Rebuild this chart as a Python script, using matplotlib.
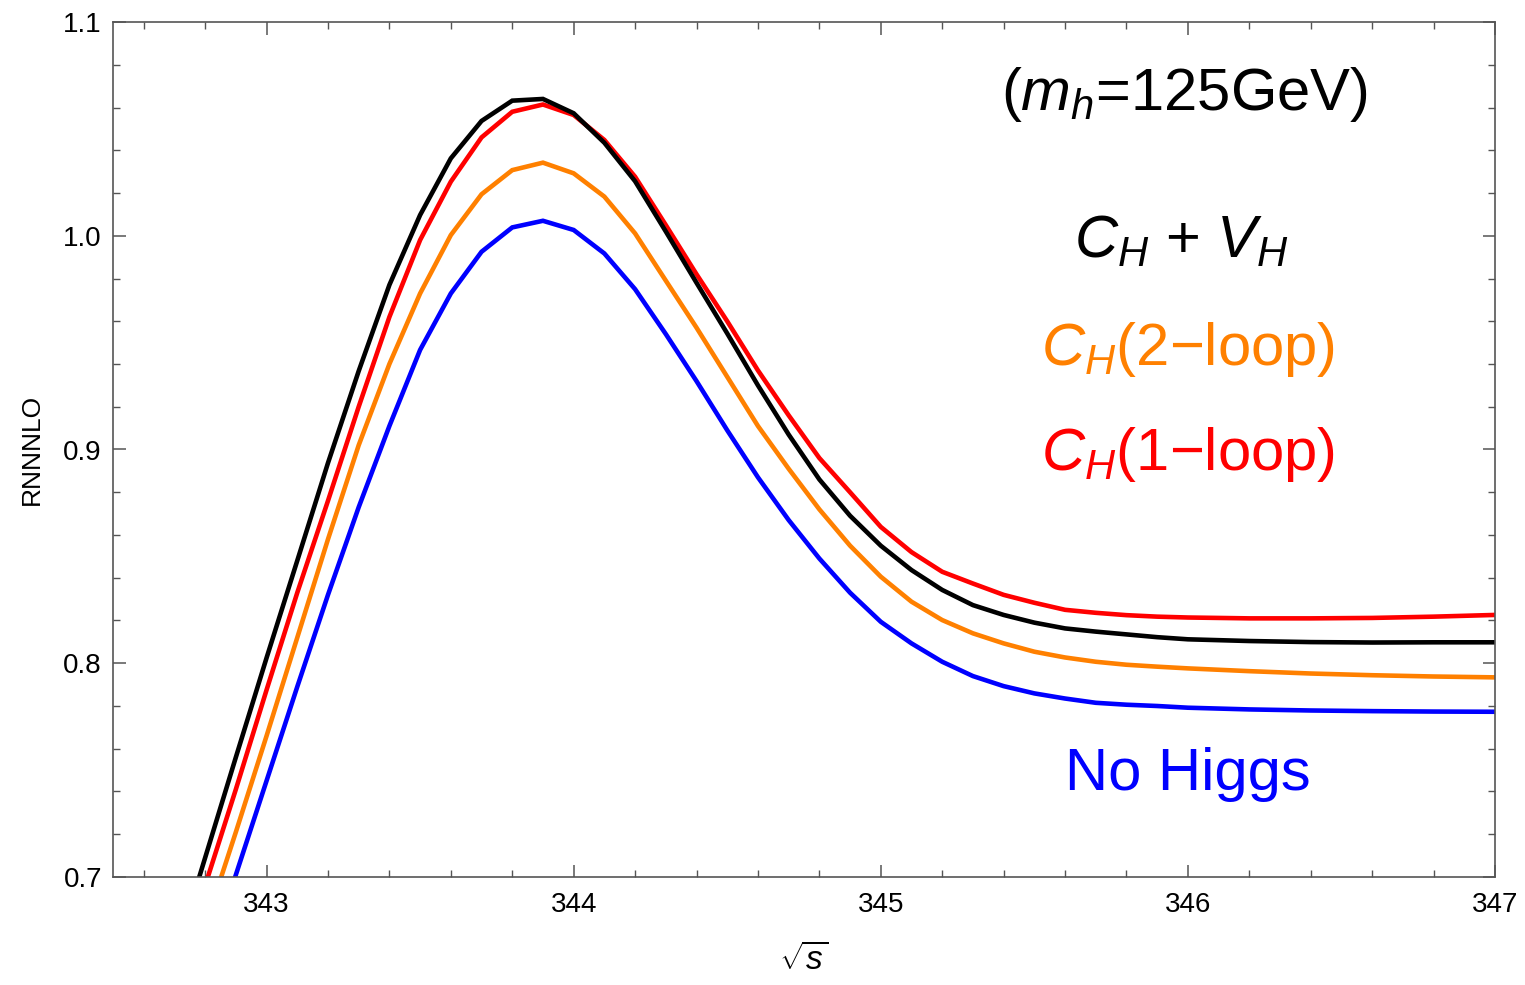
import matplotlib
matplotlib.use("Agg")
import matplotlib.pyplot as plt
from matplotlib.ticker import MultipleLocator

plt.rcParams['font.family'] = ['Liberation Sans', 'DejaVu Sans']
plt.rcParams['mathtext.fontset'] = 'custom'
plt.rcParams['mathtext.rm'] = 'Liberation Sans'
plt.rcParams['mathtext.it'] = 'Liberation Sans:italic'
plt.rcParams['mathtext.bf'] = 'Liberation Sans:bold'

# ---- data ----
sqrt_s = [342.7, 342.8, 342.9, 343.0, 343.1, 343.2, 343.3, 343.4, 343.5, 343.6,
          343.7, 343.8, 343.9, 344.0, 344.1, 344.2, 344.3, 344.4, 344.5, 344.6,
          344.7, 344.8, 344.9, 345.0, 345.1, 345.2, 345.3, 345.4, 345.5, 345.6,
          345.7, 345.8, 345.9, 346.0, 346.2, 346.4, 346.6, 346.8, 347.0]

ch_vh = [0.662, 0.709, 0.756, 0.8025, 0.848, 0.8937, 0.9367, 0.977, 1.0097, 1.0362,
         1.0537, 1.0632, 1.064, 1.0573, 1.0435, 1.0255, 1.002, 0.978, 0.9543, 0.930,
         0.907, 0.886, 0.869, 0.855, 0.8436, 0.8343, 0.8272, 0.8226, 0.819, 0.8163,
         0.8148, 0.8135, 0.8122, 0.8112, 0.8104, 0.8099, 0.8097, 0.8098, 0.8098]

ch_1loop = [0.650, 0.696, 0.741, 0.7875, 0.833, 0.876, 0.920, 0.962, 0.998, 1.0253,
            1.046, 1.058, 1.0614, 1.0565, 1.0448, 1.0276, 1.005, 0.982, 0.960, 0.937,
            0.916, 0.896, 0.880, 0.8638, 0.852, 0.8428, 0.8373, 0.832, 0.8283, 0.825,
            0.8236, 0.8225, 0.8218, 0.8214, 0.821, 0.821, 0.8212, 0.8218, 0.8226]

ch_2loop = [0.632, 0.677, 0.721, 0.766, 0.812, 0.858, 0.902, 0.940, 0.973, 1.0003,
            1.0194, 1.0307, 1.0342, 1.0292, 1.0183, 1.0011, 0.979, 0.957, 0.934, 0.911,
            0.891, 0.872, 0.855, 0.8405, 0.8288, 0.8202, 0.814, 0.8093, 0.8054, 0.8027,
            0.8007, 0.7993, 0.7984, 0.7976, 0.7963, 0.7952, 0.7944, 0.7938, 0.7934]

no_higgs = [0.613, 0.657, 0.701, 0.745, 0.789, 0.832, 0.873, 0.911, 0.9466, 0.973,
            0.9925, 1.0039, 1.007, 1.0027, 0.9917, 0.975, 0.954, 0.932, 0.909, 0.887,
            0.867, 0.849, 0.833, 0.8194, 0.8093, 0.8007, 0.794, 0.7893, 0.7859, 0.7835,
            0.7815, 0.7806, 0.7800, 0.7792, 0.7784, 0.7779, 0.7776, 0.7774, 0.7773]

series = [
    (no_higgs, '#0000FF'),
    (ch_2loop, '#FF8000'),
    (ch_1loop, '#FF0000'),
    (ch_vh, '#000000'),
]

labels = [
    (r'$(m_h$=125GeV)', '#000000', 345.99, 1.0588),
    (r'$C_H$ + $V_H$', '#000000', 345.98, 0.9896),
    (r'$C_H$(2$-$loop)', '#FF8000', 346.0, 0.9395),
    (r'$C_H$(1$-$loop)', '#FF0000', 346.0, 0.8904),
    ('No Higgs', '#0000FF', 346.0, 0.7407),
]

xticks = [343, 344, 345, 346, 347]
yticks = [0.7, 0.8, 0.9, 1.0, 1.1]

fig = plt.figure(figsize=(15.25, 9.85), dpi=100)
ax = fig.add_axes([113/1525, 108/985, (1495-113)/1525, (877-22)/985])

for vals, col in series:
    ax.plot(sqrt_s, vals, color=col, lw=3.3, solid_joinstyle='miter')

ax.set_xlim(342.5, 347.0)
ax.set_ylim(0.7, 1.1)
ax.xaxis.set_minor_locator(MultipleLocator(0.2))
ax.yaxis.set_minor_locator(MultipleLocator(0.02))
ax.set_xticks(xticks)
ax.set_xticklabels([str(t) for t in xticks])
ax.set_yticks(yticks)
ax.set_yticklabels([f'{t:.1f}' for t in yticks])

gray = '#555555'
for sp in ax.spines.values():
    sp.set_color(gray)
    sp.set_linewidth(1.2)
ax.tick_params(which='both', direction='in', top=True, right=True, color=gray,
               labelcolor='black')
ax.tick_params(axis='x', labelsize=20, pad=11)
ax.tick_params(axis='y', labelsize=20, pad=8)
ax.tick_params(which='major', length=9, width=1.1)
ax.tick_params(which='minor', length=5, width=1.0)

ax.set_ylabel('RNNNLO', fontsize=19, labelpad=14)
ax.set_xlabel(r'$\sqrt{s}$', fontsize=24, labelpad=18)

for txt, col, x, y in labels:
    ax.text(x, y, txt, color=col, fontsize=43, ha='center', va='baseline')

fig.savefig('out.png', dpi=100)
